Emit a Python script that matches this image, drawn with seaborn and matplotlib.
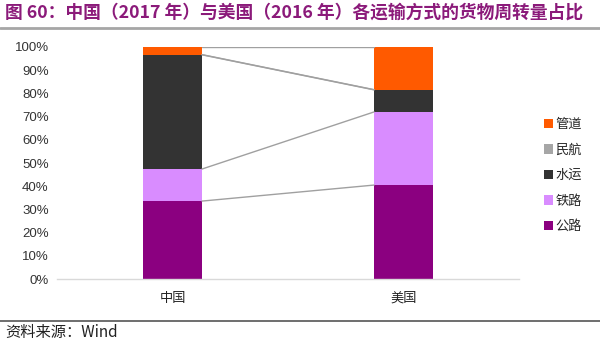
import numpy as np
import pandas as pd
import matplotlib
matplotlib.use("Agg")
import matplotlib.pyplot as plt
from matplotlib.patches import Patch
from matplotlib.lines import Line2D
import seaborn as sns

# Freight turnover share by transport mode (%)
countries = ["中国", "美国"]
modes = ["公路", "铁路", "水运", "民航", "管道"]
road = [33.6, 40.5]
rail = [13.8, 31.5]
water = [49.2, 9.5]
air = [0.1, 0.1]
pipeline = [3.3, 18.4]
yticks = [0, 10, 20, 30, 40, 50, 60, 70, 80, 90, 100]

colors = {"公路": "#8B0080", "铁路": "#D98CFF", "水运": "#333333",
          "民航": "#A6A6A6", "管道": "#FF5A00"}

sns.set_theme(style="white")
plt.rcParams["font.family"] = ["Liberation Sans", "Noto Sans CJK SC", "DejaVu Sans"]

df = pd.DataFrame({"国家": countries, "公路": road, "铁路": rail,
                   "水运": water, "民航": air, "管道": pipeline})
cum = df[modes].cumsum(axis=1)

fig = plt.figure(figsize=(6.0, 3.45), dpi=100)
ax = fig.add_axes([0.095, 0.191, 0.77, 0.673])

bar_w = 0.255
# stacked bars: draw cumulative totals from the top layer down
for m in reversed(modes):
    sns.barplot(x=df["国家"], y=cum[m], color=colors[m], width=bar_w,
                saturation=1, ax=ax, edgecolor="none", linewidth=0)

# series lines joining each layer boundary between the two bars
for m in modes:
    vals = cum[m].values
    ax.plot([0 + bar_w / 2, 1 - bar_w / 2], [vals[0], vals[1]],
            color="#A0A0A0", lw=1.0, zorder=3)

ax.set_xlim(-0.5, 1.5)
ax.set_ylim(0, 100)
ax.set_yticks(yticks)
ax.set_yticklabels([f"{v}%" for v in yticks], fontsize=9.5, color="#333333",
                   family=["Liberation Sans"])
ax.set_xticks([0, 1])
ax.set_xticklabels(countries, fontsize=9.5, color="#222222",
                   family=["Noto Sans CJK SC"])
ax.tick_params(axis="x", length=0, pad=9)
ax.tick_params(axis="y", length=0, pad=6)
ax.set_xlabel("")
ax.set_ylabel("")
for s in ["top", "right", "left"]:
    ax.spines[s].set_visible(False)
ax.spines["bottom"].set_color("#D9D9D9")
ax.spines["bottom"].set_linewidth(1.0)

handles = [Patch(facecolor=colors[m], edgecolor="none") for m in reversed(modes)]
fig.legend(handles, list(reversed(modes)), loc="center left",
           bbox_to_anchor=(0.895, 0.491), frameon=False,
           prop={"family": "Noto Sans CJK SC", "size": 9.5},
           handlelength=0.7, handleheight=0.7, handletextpad=0.2,
           labelspacing=0.95, borderpad=0)

fig.text(0.008, 0.963, "图 60：中国（2017 年）与美国（2016 年）各运输方式的货物周转量占比",
         fontsize=12.8, fontweight="bold", color="#8B1A7A", va="center", ha="left",
         family=["Noto Sans CJK SC"])
fig.add_artist(Line2D([0, 1], [0.920, 0.920], color="#A6A6A6", lw=2.0,
                      transform=fig.transFigure))
fig.add_artist(Line2D([0, 1], [0.071, 0.071], color="#555555", lw=1.2,
                      transform=fig.transFigure))
fig.text(0.008, 0.037, "资料来源：Wind", fontsize=11, color="#222222",
         va="center", ha="left", family=["Noto Sans CJK SC"])

fig.savefig("out.png", dpi=100, facecolor="white")
